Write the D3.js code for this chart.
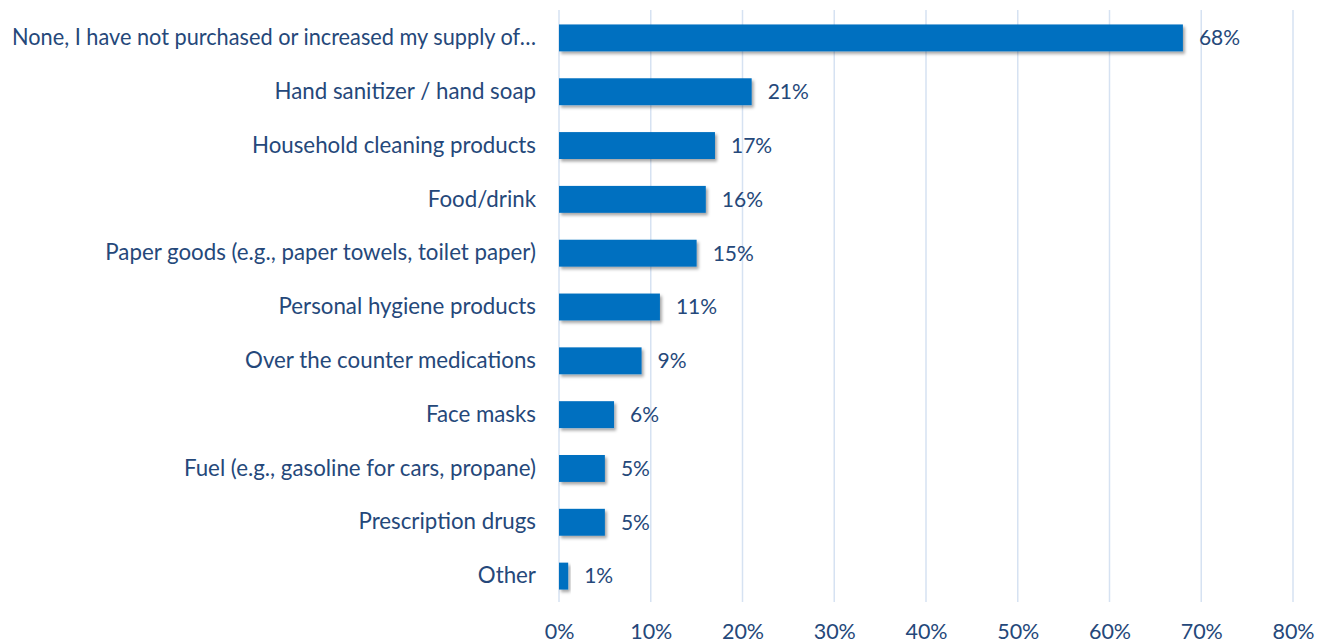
<!DOCTYPE html>
<html>
<head>
<meta charset="utf-8">
<script src="https://cdn.jsdelivr.net/npm/d3@7"></script>
<style>
  html, body { margin: 0; padding: 0; background: #fff; }
  svg { display: block; }
  text { font-family: "Lato", "Open Sans", sans-serif; fill: #25487a; }
</style>
</head>
<body>
<svg id="chart" width="1317" height="643"></svg>
<script>
// Share of respondents who stocked up on each item
const categories = [
  "None, I have not purchased or increased my supply of…",
  "Hand sanitizer / hand soap",
  "Household cleaning products",
  "Food/drink",
  "Paper goods (e.g., paper towels, toilet paper)",
  "Personal hygiene products",
  "Over the counter medications",
  "Face masks",
  "Fuel (e.g., gasoline for cars, propane)",
  "Prescription drugs",
  "Other"
];
const values = [68, 21, 17, 16, 15, 11, 9, 6, 5, 5, 1];
const tickValues = [0, 10, 20, 30, 40, 50, 60, 70, 80];

const svg = d3.select("#chart");

const x = d3.scaleLinear().domain([0, 80]).range([559, 1293]);
const y = d3.scaleBand().domain(categories).range([11, 603])
  .paddingInner(0.5).paddingOuter(0.25);

// soft drop shadow under the bars
const defs = svg.append("defs");
const f = defs.append("filter").attr("id", "shadow")
  .attr("x", "-10%").attr("y", "-30%").attr("width", "130%").attr("height", "180%");
f.append("feDropShadow").attr("dx", 2).attr("dy", 2.5)
  .attr("stdDeviation", 1.6).attr("flood-color", "#000").attr("flood-opacity", 0.35);

// vertical gridlines
svg.append("g").selectAll("line").data(tickValues).join("line")
  .attr("x1", d => x(d)).attr("x2", d => x(d))
  .attr("y1", 10).attr("y2", 602)
  .attr("stroke", "#d6e2f2").attr("stroke-width", 1.5);

// bars
svg.append("g").selectAll("rect").data(values).join("rect")
  .attr("x", x(0))
  .attr("y", (d, i) => y(categories[i]))
  .attr("width", d => x(d) - x(0))
  .attr("height", y.bandwidth())
  .attr("fill", "#0070c0")
  .attr("filter", "url(#shadow)");

// category labels
const labelRight = 536, labelMaxWidth = 524;
const yAxis = d3.axisLeft(y).tickSize(0).tickPadding(0);
const gy = svg.append("g").attr("transform", `translate(${labelRight},0)`).call(yAxis);
gy.select(".domain").remove();
gy.selectAll("text").attr("font-size", 22.3).style("font-family", null).attr("fill", "#25487a")
  .each(function () {
    // squeeze any label that would run past the left edge
    if (this.getComputedTextLength() > labelMaxWidth) {
      d3.select(this).attr("textLength", labelMaxWidth).attr("lengthAdjust", "spacingAndGlyphs");
    }
  });

// value labels
svg.append("g").selectAll("text").data(values).join("text")
  .attr("x", d => x(d) + 16)
  .attr("y", (d, i) => y(categories[i]) + y.bandwidth() / 2)
  .attr("dy", "0.35em")
  .attr("font-size", 21)
  .text(d => d + "%");

// x axis tick labels
const xAxis = d3.axisBottom(x).tickValues(tickValues).tickSize(0).tickPadding(0)
  .tickFormat(d => d + "%");
const gx = svg.append("g").attr("transform", "translate(0,624)").call(xAxis);
gx.select(".domain").remove();
gx.selectAll("text").attr("font-size", 21.5).style("font-family", null).attr("fill", "#25487a");
</script>
</body>
</html>
